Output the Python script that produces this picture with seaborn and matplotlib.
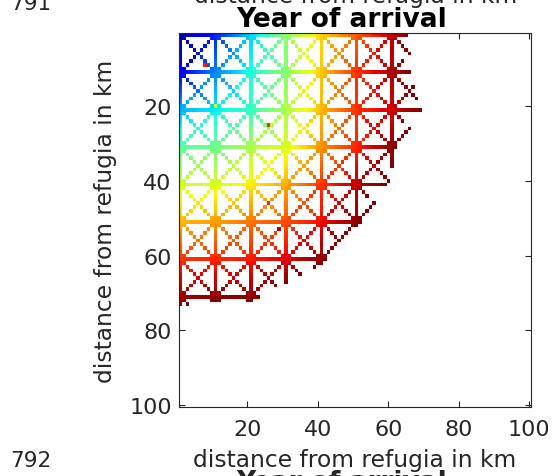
import numpy as np
import matplotlib
matplotlib.use("Agg")
import matplotlib.pyplot as plt
import seaborn as sns

# -----------------------------
# DATA
# -----------------------------
# lattice lines (1-based cell index) on which the spread travels
node_rows = [1, 11, 21, 31, 41, 51, 61, 71, 81]
node_cols = [1, 11, 21, 31, 41, 51, 61, 71]

# year of arrival at each lattice node (values > last_year = never reached)
years_row01 = [2, 11, 23, 36, 48, 57, 66, 75]
years_row11 = [8, 18, 27, 36, 49, 60, 67, 73]
years_row21 = [21, 25, 29, 39, 50, 60, 65, 71]
years_row31 = [32, 34, 39, 43, 53, 61, 69, 78]
years_row41 = [42, 43, 46, 51, 60, 66, 71, 81]
years_row51 = [50, 52, 55, 58, 63, 69, 77, 84]
years_row61 = [60, 61, 62, 64, 69, 76, 84, 91]
years_row71 = [68, 69, 69, 73, 78, 84, 91, 98]
years_row81 = [75, 77, 78, 82, 88, 95, 100, 105]

# a few isolated cells (row, col, year)
stray_cells = [(9, 8, 62), (20, 11, 43), (25, 26, 60), (46, 26, 61), (53, 29, 67)]

last_year = 70

x_ticks = [20, 40, 60, 80, 100]
y_ticks = [20, 40, 60, 80, 100]

# -----------------------------
# BUILD THE 100 x 100 GRID
# -----------------------------
node_years = [years_row01, years_row11, years_row21, years_row31, years_row41,
              years_row51, years_row61, years_row71, years_row81]
n = 100
grid = np.full((n, n), np.nan)


def put(r, c, y):
    if 1 <= r <= n and 1 <= c <= n and y <= last_year:
        cur = grid[r - 1, c - 1]
        if np.isnan(cur) or y < cur:
            grid[r - 1, c - 1] = y


def segment(r0, c0, y0, r1, c1, y1, inset=0):
    steps = max(abs(r1 - r0), abs(c1 - c0))
    for k in range(inset, steps + 1 - inset):
        t = k / steps
        put(int(round(r0 + t * (r1 - r0))), int(round(c0 + t * (c1 - c0))),
            y0 + t * (y1 - y0))


for i, r in enumerate(node_rows):
    for j, c in enumerate(node_cols):
        y = node_years[i][j]
        if j + 1 < len(node_cols):
            segment(r, c, y, r, node_cols[j + 1], node_years[i][j + 1])
        if i + 1 < len(node_rows):
            segment(r, c, y, node_rows[i + 1], c, node_years[i + 1][j])
        if i + 1 < len(node_rows) and j + 1 < len(node_cols):
            # the two diagonals of the block
            segment(r, c, y, node_rows[i + 1], node_cols[j + 1],
                    node_years[i + 1][j + 1], inset=1)
            segment(r, node_cols[j + 1], node_years[i][j + 1],
                    node_rows[i + 1], c, node_years[i + 1][j], inset=1)

for r, c, y in stray_cells:
    grid[r - 1, c - 1] = y

# -----------------------------
# PLOT
# -----------------------------
sns.set_style("white")
plt.rcParams['font.family'] = ['DejaVu Sans']
grey = '#262626'

fig = plt.figure(figsize=(5.53, 4.77), dpi=100)
ax = fig.add_axes([0.3232, 0.1447, 0.637, 0.784])

sns.heatmap(grid, cmap='jet', vmin=0, vmax=last_year, cbar=False, ax=ax,
            xticklabels=False, yticklabels=False)

ax.set_xlim(0, n)
ax.set_ylim(n, 0)
ax.set_xticks([v - 0.5 for v in x_ticks])
ax.set_xticklabels([str(v) for v in x_ticks])
ax.set_yticks([v - 0.5 for v in y_ticks])
ax.set_yticklabels([str(v) for v in y_ticks])
ax.tick_params(direction='in', length=4, width=0.8, color=grey, labelcolor=grey,
               labelsize=16, top=True, right=True, bottom=True, left=True)
ax.tick_params(axis='x', pad=9)
ax.tick_params(axis='y', pad=5, rotation=0)
for sp in ax.spines.values():
    sp.set_visible(True)
    sp.set_color(grey)
    sp.set_linewidth(0.8)

ax.set_xlabel('distance from refugia in km', fontsize=16.8, color=grey, labelpad=6)
ax.set_ylabel('distance from refugia in km', fontsize=16.8, color=grey, labelpad=9)
ax.set_title('Year of arrival', fontsize=19, fontweight='bold', color='black',
             pad=5, x=(342 - 178.75) / 352.25)

# neighbouring panels (clipped at the figure edges)
fig.text(356 / 553, 1 - 3 / 477, 'distance from refugia in km', fontsize=16.8,
         color=grey, ha='center', va='baseline')
fig.text(342 / 553, 1 - 470 / 477, 'Year of arrival', fontsize=19,
         fontweight='bold', ha='center', va='top')
fig.text(10 / 553, 1 - 10 / 477, '791', fontsize=15.5, ha='left', va='baseline')
fig.text(10 / 553, 1 - 467 / 477, '792', fontsize=15.5, ha='left', va='baseline')

fig.savefig('out.png', dpi=100)
